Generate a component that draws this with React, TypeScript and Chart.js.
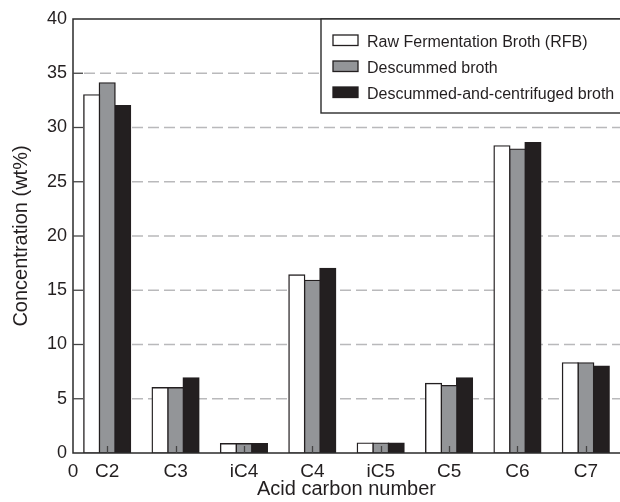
import React, { useEffect, useRef } from "react";
import { Chart, registerables } from "chart.js";

Chart.register(...registerables);

const categories = ["C2", "C3", "iC4", "C4", "iC5", "C5", "C6", "C7"];
const rfbValues = [33.0, 6.0, 0.85, 16.4, 0.9, 6.4, 28.3, 8.3];
const descummedValues = [34.1, 6.0, 0.85, 15.9, 0.9, 6.2, 28.0, 8.3];
const centrifugedValues = [32.0, 6.9, 0.85, 17.0, 0.9, 6.9, 28.6, 8.0];
const seriesLabels = [
  "Raw Fermentation Broth (RFB)",
  "Descummed broth",
  "Descummed-and-centrifuged broth",
];
const seriesColors = ["#ffffff", "#939598", "#231f20"];
const gridValues = [5, 10, 15, 20, 25, 30, 35];
const xOriginLabel = "0";
const xTitle = "Acid carbon number";
const yTitle = "Concentration (wt%)";

const FONT = "'Liberation Sans', Arial, Helvetica, sans-serif";
const INK = "#231f20";

const decorPlugin = {
  id: "decor",
  beforeDatasetsDraw(chart: any) {
    const { ctx, chartArea: a, scales } = chart;
    const y = scales.y;
    ctx.save();
    ctx.strokeStyle = "#b9b9bb";
    ctx.lineWidth = 1.6;
    ctx.setLineDash([11, 5]);
    for (const v of gridValues) {
      const py = y.getPixelForValue(v);
      ctx.beginPath();
      ctx.moveTo(a.left + 11, py);
      ctx.lineTo(a.right, py);
      ctx.stroke();
    }
    ctx.restore();
  },
  afterDatasetsDraw(chart: any) {
    const { ctx, chartArea: a, scales } = chart;
    const x = scales.x;
    const y = scales.y;
    ctx.save();
    ctx.strokeStyle = "#2b2b2b";
    ctx.lineWidth = 1.5;
    ctx.beginPath();
    ctx.moveTo(a.right + 2, a.top);
    ctx.lineTo(a.left, a.top);
    ctx.lineTo(a.left, a.bottom);
    ctx.lineTo(a.right + 2, a.bottom);
    ctx.stroke();
    ctx.strokeStyle = "#444";
    ctx.lineWidth = 1.3;
    for (const v of gridValues) {
      const py = y.getPixelForValue(v);
      ctx.beginPath();
      ctx.moveTo(a.left, py);
      ctx.lineTo(a.left + 10, py);
      ctx.stroke();
    }
    categories.forEach((_, i) => {
      const px = Math.round(x.getPixelForValue(i)) + 0.5;
      ctx.beginPath();
      ctx.moveTo(px, a.bottom);
      ctx.lineTo(px, a.bottom - 7);
      ctx.stroke();
    });
    ctx.restore();
  },
  afterDraw(chart: any) {
    const { ctx, chartArea: a } = chart;
    ctx.save();
    ctx.fillStyle = INK;
    ctx.font = `19px ${FONT}`;
    ctx.textAlign = "center";
    ctx.textBaseline = "alphabetic";
    ctx.fillText(xOriginLabel, a.left, 477);
    const lx = 321;
    const ly = a.top;
    const lw = a.right + 4 - lx;
    const lh = 94;
    ctx.fillStyle = "#ffffff";
    ctx.fillRect(lx, ly, lw, lh);
    ctx.strokeStyle = "#2b2b2b";
    ctx.lineWidth = 1.4;
    ctx.strokeRect(lx, ly, lw, lh);
    ctx.font = `16px ${FONT}`;
    ctx.textAlign = "left";
    seriesLabels.forEach((lab, i) => {
      const sy = ly + 16 + i * 26;
      ctx.fillStyle = seriesColors[i];
      ctx.fillRect(333, sy, 25, 10.5);
      ctx.strokeStyle = INK;
      ctx.lineWidth = 1.3;
      ctx.strokeRect(333, sy, 25, 10.5);
      ctx.fillStyle = INK;
      ctx.fillText(lab, 367, sy + 11.5);
    });
    ctx.restore();
  },
};

export default function App() {
  const ref = useRef<HTMLCanvasElement | null>(null);
  useEffect(() => {
    document.body.style.margin = "0";
    const canvas = ref.current;
    if (!canvas) return;
    const mk = (i: number, data: number[]) => ({
      label: seriesLabels[i],
      data,
      backgroundColor: seriesColors[i],
      borderColor: INK,
      borderWidth: 1.4,
      borderSkipped: false as const,
      inflateAmount: 0.8,
      categoryPercentage: 0.68,
      barPercentage: 1.0,
    });
    const chart = new Chart(canvas, {
      type: "bar",
      data: {
        labels: categories,
        datasets: [mk(0, rfbValues), mk(1, descummedValues), mk(2, centrifugedValues)],
      },
      plugins: [decorPlugin],
      options: {
        responsive: false,
        animation: false,
        devicePixelRatio: 1,
        layout: { padding: { top: 19, left: 0, right: 0, bottom: 0 } },
        plugins: { legend: { display: false }, tooltip: { enabled: false } },
        scales: {
          x: {
            type: "category",
            offset: true,
            grid: { display: false, drawTicks: false },
            border: { display: false },
            ticks: { color: INK, font: { family: FONT, size: 19 }, padding: 7 },
            title: {
              display: true,
              text: xTitle,
              color: INK,
              font: { family: FONT, size: 20 },
              padding: { top: 0, bottom: 1 },
            },
            afterFit: (s: any) => {
              s.height = 49;
            },
          },
          y: {
            min: 0,
            max: 40,
            grid: { display: false, drawTicks: false },
            border: { display: false },
            ticks: {
              stepSize: 5,
              color: INK,
              font: { family: FONT, size: 18 },
              padding: 6,
            },
            title: {
              display: true,
              text: yTitle,
              color: INK,
              font: { family: FONT, size: 20 },
              padding: { top: 9, bottom: 0 },
            },
            afterFit: (s: any) => {
              s.width = 73;
            },
          },
        },
      },
    });
    return () => chart.destroy();
  }, []);
  return (
    <div style={{ width: 620, height: 502 }}>
      <canvas ref={ref} width={620} height={502} style={{ display: "block" }} />
    </div>
  );
}
